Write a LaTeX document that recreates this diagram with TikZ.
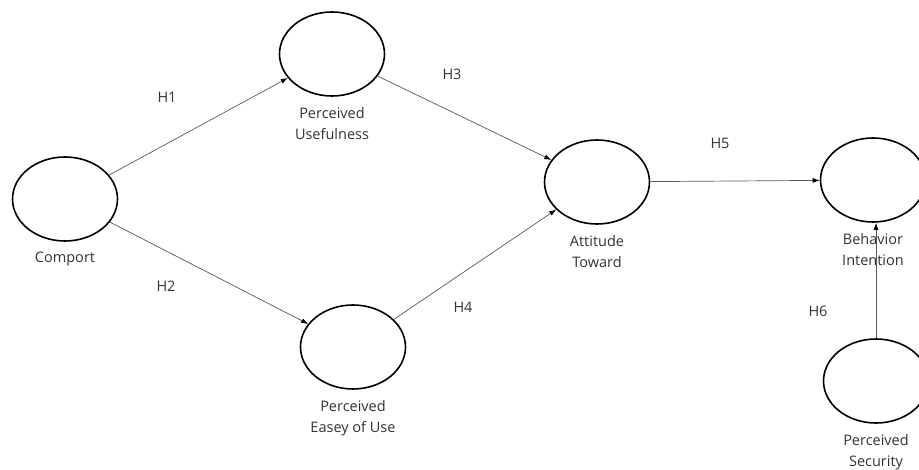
\documentclass[tikz,border=0pt]{standalone}
\usepackage{fontspec}
\setmainfont{Open Sans}
\usetikzlibrary{shapes.geometric,arrows.meta}

\tikzset{
	construct/.style = {ellipse, draw=black, line width=1.6pt, minimum width=105pt, minimum height=84pt, inner sep=0pt},
	lbl/.style = {align=center, font=\fontsize{14.5}{21}\selectfont, text=black!80},
	path/.style = {draw=black!65, line width=0.7pt, -{Latex[length=7pt,width=5pt,black]}},
	hyp/.style = {font=\fontsize{14.5}{17}\selectfont, text=black!80}
}

\begin{document}
\begin{tikzpicture}[x=1pt,y=-1pt]
	\useasboundingbox (0,0) rectangle (919,470);
	\clip (0,0) rectangle (919,470);
	% constructs
	\node[construct, label={[lbl, label distance=7pt]below:Comport}] (comport) at (65,199) {};
	\node[construct, label={[lbl, label distance=7pt]below:Perceived\\Usefulness}] (pu) at (332,54) {};
	\node[construct, label={[lbl, label distance=7pt]below:Perceived\\Easey of Use}] (peou) at (353,347) {};
	\node[construct, label={[lbl, label distance=7pt]below:Attitude\\Toward}] (at) at (597,182) {};
	\node[construct, label={[lbl, label distance=7pt]below:Behavior\\Intention}] (bi) at (873,180) {};
	\node[construct, label={[lbl, label distance=7pt]below:Perceived\\Security}] (ps) at (876,381) {};
	% paths
	\draw[path] (comport) -- (pu);
	\draw[path] (comport) -- (peou);
	\draw[path] (pu) -- (at);
	\draw[path] (peou) -- (at);
	\draw[path] (at) -- (bi);
	\draw[path] (ps) -- (ps |- bi.south);
	% hypotheses
	\node[hyp] (h1) at (167,97) {H1};
	\node[hyp] (h2) at (166,286) {H2};
	\node[hyp] (h3) at (452,74) {H3};
	\node[hyp] (h4) at (463,307) {H4};
	\node[hyp] (h5) at (720,143) {H5};
	\node[hyp] (h6) at (818,311) {H6};
\end{tikzpicture}
\end{document}
